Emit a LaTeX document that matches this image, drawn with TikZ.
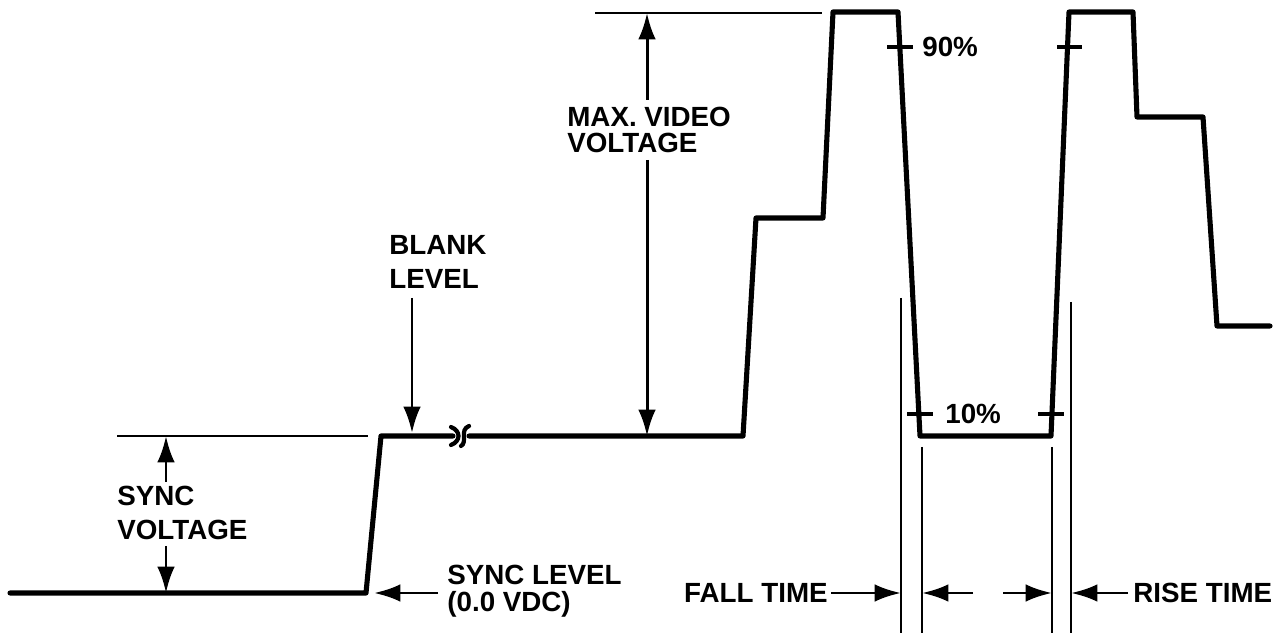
\documentclass[tikz,border=0pt]{standalone}
\usepackage{fontspec}
\setmainfont{Liberation Sans}
\usetikzlibrary{arrows.meta}
\begin{document}
\begin{tikzpicture}[x=0.02cm,y=-0.02cm,
  wave/.style={line width=2.9pt,line join=round,line cap=round},
  thin/.style={line width=1.5pt},
  tick/.style={line width=2.4pt},
  dim/.style={line width=1.7pt,-{Latex[length=15pt,width=10pt]}},
  lbl/.style={inner sep=0pt,font=\fontsize{15.8}{18}\selectfont\bfseries}]
\useasboundingbox (0,0) rectangle (1278,641);
% waveform points
\coordinate (s0) at (10,593);
\coordinate (s1) at (366,593);
\coordinate (s2) at (381,436);
\coordinate (s3) at (453,436);
\coordinate (s4) at (469,436);
\coordinate (s5) at (743,436);
\coordinate (s6) at (756,218);
\coordinate (s7) at (823,218);
\coordinate (s8) at (833,12);
\coordinate (s9) at (898,12);
\coordinate (s10) at (920,436);
\coordinate (s11) at (1051,436);
\coordinate (s12) at (1069,12);
\coordinate (s13) at (1133,12);
\coordinate (s14) at (1137,117);
\coordinate (s15) at (1203,117);
\coordinate (s16) at (1217,326);
\coordinate (s17) at (1270,326);
\draw[wave] (s0) -- (s1) -- (s2) -- (s3);
\draw[wave] (s4) -- (s5) -- (s6) -- (s7) -- (s8) -- (s9) -- (s10) -- (s11) -- (s12) -- (s13) -- (s14) -- (s15) -- (s16) -- (s17);
% break marks
\draw[line width=2.4pt,line cap=round] (451,427) .. controls (461,431) and (461,441) .. (451,445);
\draw[line width=2.4pt,line cap=round] (469,426) .. controls (459,430) and (468,442) .. (461,446);
% reference lines
\coordinate (syncrefL) at (117,436);
\coordinate (syncrefR) at (368,436);
\draw[thin] (syncrefL) -- (syncrefR);
\coordinate (maxrefL) at (595,13);
\coordinate (maxrefR) at (822,13);
\draw[thin] (maxrefL) -- (maxrefR);
% labels
\node[lbl,anchor=west] (maxA) at (567,117) {MAX. VIDEO};
\node[lbl,anchor=west] (maxB) at (567,143) {VOLTAGE};
\node[lbl,anchor=west] (blankA) at (389,245) {BLANK};
\node[lbl,anchor=west] (blankB) at (389,279) {LEVEL};
\node[lbl,anchor=west] (syncA) at (117,496) {SYNC};
\node[lbl,anchor=west] (syncB) at (117,530) {VOLTAGE};
\node[lbl,anchor=west] (slA) at (447,575) {SYNC LEVEL};
\node[lbl,anchor=west] (slB) at (447,604) {(0.0 VDC)};
\node[lbl,anchor=east] (fall) at (828,593) {FALL TIME};
\node[lbl,anchor=west] (rise) at (1133,593) {RISE TIME};
\node[lbl,anchor=west] (p90) at (922,47) {90\%};
\node[lbl,anchor=west] (p10) at (945,414) {10\%};
% max video arrows
\coordinate (mvT) at (647,100);
\coordinate (mvB) at (647,160);
\draw[dim] (mvT) -- (647,13);
\draw[dim] (mvB) -- (647,436);
% sync voltage arrows
\coordinate (svT) at (166,482);
\coordinate (svB) at (166,546);
\draw[dim] (svT) -- (166,436);
\draw[dim] (svB) -- (166,593);
% blank level arrow
\coordinate (blT) at (412,298);
\coordinate (blB) at (412,433);
\draw[dim] (blT) -- (blB);
% sync level arrow
\coordinate (slS) at (438,593);
\coordinate (slE) at (374,593);
\draw[dim] (slS) -- (slE);
% fall/rise extension lines
\coordinate (v1t) at (901,298); \coordinate (v1b) at (901,633);
\coordinate (v2t) at (922,447); \coordinate (v2b) at (922,633);
\coordinate (v3t) at (1052,447); \coordinate (v3b) at (1052,633);
\coordinate (v4t) at (1071,302); \coordinate (v4b) at (1071,633);
\draw[thin] (v1t) -- (v1b);
\draw[thin] (v2t) -- (v2b);
\draw[thin] (v3t) -- (v3b);
\draw[thin] (v4t) -- (v4b);
% time arrows
\draw[dim] (fall.east) ++(3,0) -- (v1b |- fall.east);
\coordinate (a2) at (973,593);
\draw[dim] (a2) -- (v2b |- a2);
\coordinate (a3) at (1003,593);
\draw[dim] (a3) -- (v3b |- a3);
\draw[dim] (rise.west) ++(-5,0) -- (v4b |- rise.west);
% ticks
\coordinate (t1a) at (887,47); \coordinate (t1b) at (913,47);
\coordinate (t2a) at (1057,47); \coordinate (t2b) at (1082,47);
\coordinate (t3a) at (907,414); \coordinate (t3b) at (933,414);
\coordinate (t4a) at (1038,414); \coordinate (t4b) at (1064,414);
\draw[tick] (t1a) -- (t1b);
\draw[tick] (t2a) -- (t2b);
\draw[tick] (t3a) -- (t3b);
\draw[tick] (t4a) -- (t4b);
\end{tikzpicture}
\end{document}
